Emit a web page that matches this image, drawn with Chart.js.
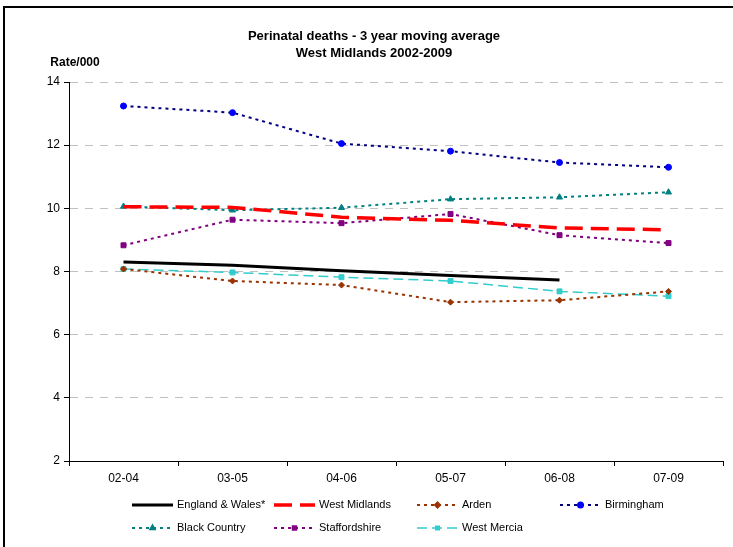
<!DOCTYPE html>
<html>
<head>
<meta charset="utf-8">
<script src="https://cdn.jsdelivr.net/npm/chart.js@4/dist/chart.umd.min.js"></script>
<style>
  html, body { margin: 0; padding: 0; background: #fff; }
  #chart { display: block; }
</style>
</head>
<body>
<canvas id="chart" width="733" height="547"></canvas>
<script>
const periods = ['02-04', '03-05', '04-06', '05-07', '06-08', '07-09'];
const englandWales = [8.30, 8.20, 8.02, 7.87, 7.73, null];
const westMidlands = [10.05, 10.03, 9.72, 9.62, 9.38, 9.32];
const arden = [8.08, 7.70, 7.57, 7.03, 7.09, 7.37];
const birmingham = [13.24, 13.03, 12.05, 11.81, 11.45, 11.30];
const blackCountry = [10.06, 9.94, 10.02, 10.29, 10.35, 10.51];
const staffordshire = [8.83, 9.64, 9.53, 9.82, 9.15, 8.90];
const westMercia = [8.08, 7.97, 7.82, 7.70, 7.37, 7.22];
const yMin = 2, yMax = 14, yStep = 2;

const FONT = '"Liberation Sans", Arial, sans-serif';
Chart.defaults.font.family = FONT;
Chart.defaults.color = '#000';

function series(label, data, color, markColor, width, dash, style, radius) {
  return {
    label, data,
    borderColor: color,
    backgroundColor: markColor,
    borderWidth: width,
    borderDash: dash,
    pointStyle: style,
    pointRadius: radius,
    pointBorderColor: markColor,
    pointBackgroundColor: markColor,
    pointBorderWidth: 1,
    tension: 0,
    spanGaps: false
  };
}

const datasets = [
  series('England & Wales*', englandWales, '#000000', '#000000', 3, [], false, 0),
  series('West Midlands', westMidlands, '#ff0000', '#ff0000', 3.5, [18, 8], false, 0),
  series('Arden', arden, '#993300', '#993300', 2, [3, 4], 'rectRot', 3),
  series('Birmingham', birmingham, '#000080', '#0000ff', 2, [3, 4], 'circle', 3),
  series('Black Country', blackCountry, '#008080', '#008080', 2, [3, 4], 'triangle', 3.5),
  series('Staffordshire', staffordshire, '#800080', '#800080', 2, [3, 4], 'rect', 3.5),
  series('West Mercia', westMercia, '#33cccc', '#33cccc', 1.5, [10, 5], 'rect', 3.5)
];

// frame, titles and legend drawn by hand
const decor = {
  id: 'decor',
  beforeDraw(chart) {
    const ctx = chart.ctx;
    ctx.save();
    ctx.fillStyle = '#fff';
    ctx.fillRect(0, 0, chart.width, chart.height);
    ctx.strokeStyle = '#000';
    ctx.lineWidth = 2;
    ctx.strokeRect(4, 7, 900, 900);
    ctx.restore();
  },
  afterDraw(chart) {
    const ctx = chart.ctx;
    ctx.save();
    ctx.fillStyle = '#000';
    ctx.textAlign = 'center';
    ctx.textBaseline = 'middle';
    ctx.font = 'bold 13px ' + FONT;
    ctx.fillText('Perinatal deaths - 3 year moving average', 374, 36);
    ctx.fillText('West Midlands 2002-2009', 374, 53);
    ctx.font = 'bold 12px ' + FONT;
    ctx.fillText('Rate/000', 75, 63);

    const cols = [132, 274, 417, 560];
    const rows = [505, 528];
    ctx.font = '11px ' + FONT;
    ctx.textAlign = 'left';
    chart.data.datasets.forEach((ds, i) => {
      const x = cols[i % 4];
      const y = rows[Math.floor(i / 4)];
      ctx.save();
      ctx.strokeStyle = ds.borderColor;
      ctx.lineWidth = ds.borderWidth;
      ctx.setLineDash(ds.borderDash);
      ctx.beginPath();
      ctx.moveTo(x, y);
      ctx.lineTo(x + 41, y);
      ctx.stroke();
      ctx.setLineDash([]);
      if (ds.pointStyle) {
        ctx.fillStyle = ds.pointBackgroundColor;
        ctx.strokeStyle = ds.pointBorderColor;
        Chart.helpers.drawPoint(ctx, {
          pointStyle: ds.pointStyle, radius: 2.5, rotation: 0, borderWidth: 1
        }, x + 20.5, y);
      }
      ctx.restore();
      ctx.fillStyle = '#000';
      ctx.fillText(ds.label, x + 45, y);
    });
    ctx.restore();
  }
};

new Chart(document.getElementById('chart'), {
  type: 'line',
  data: { labels: periods, datasets },
  options: {
    responsive: false,
    animation: false,
    layout: { padding: { left: 0, top: 82, right: 10, bottom: 0 } },
    plugins: {
      legend: { display: false },
      title: { display: false },
      tooltip: { enabled: false }
    },
    scales: {
      x: {
        offset: true,
        afterFit(scale) { scale.height = 86; },
        grid: {
          offset: true,
          drawOnChartArea: false,
          tickLength: 5,
          tickColor: '#000'
        },
        border: { color: '#000', width: 1 },
        ticks: { font: { size: 12 }, color: '#000', padding: 5 }
      },
      y: {
        min: yMin,
        max: yMax,
        afterFit(scale) { scale.width = 69; },
        grid: {
          color: '#c0c0c0',
          tickColor: '#000',
          tickLength: 5
        },
        border: { color: '#000', width: 1, dash: [8, 7] },
        ticks: { stepSize: yStep, font: { size: 12 }, color: '#000', padding: 4 }
      }
    }
  },
  plugins: [decor]
});
</script>
</body>
</html>
